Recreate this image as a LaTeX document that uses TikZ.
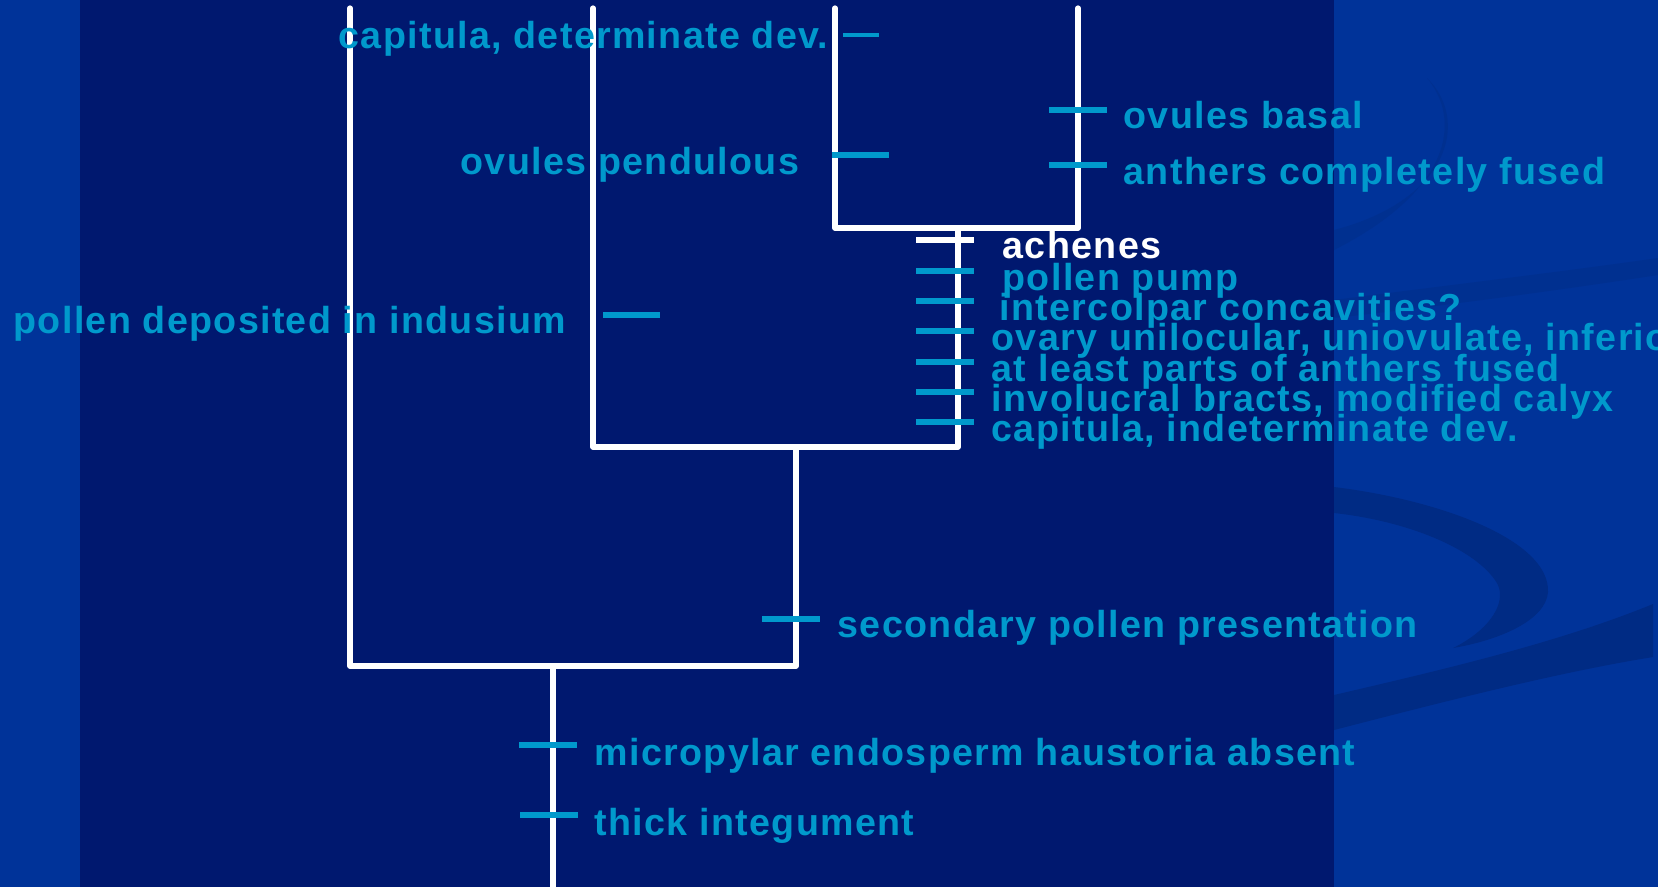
\documentclass[tikz,border=0pt]{standalone}
\usepackage{fontspec}
\newfontfamily\labfont{Liberation Sans}[LetterSpace=3.5]
\usepackage{xcolor}
\usetikzlibrary{calc}

\definecolor{panelblue}{HTML}{00186F}
\definecolor{sideblue}{HTML}{003399}
\definecolor{swooshblue}{HTML}{002B84}
\definecolor{faintblue}{HTML}{003090}
\definecolor{labelblue}{HTML}{0099CC}

\tikzset{
    branch/.style={draw=white, line width=1.5pt, line cap=round, line join=round},
    tick/.style={draw=labelblue, line width=1.7pt},
    trait/.style={anchor=base west, inner sep=0pt, text=labelblue,
        font=\labfont\bfseries\fontsize{10.7}{12}\selectfont}
}

\begin{document}
\begin{tikzpicture}[x=0.01cm, y=-0.01cm]

    \useasboundingbox (0,0) rectangle (1658,887);
    \clip (0,0) rectangle (1658,887);

    % background
    \fill[sideblue] (0,0) rectangle (1658,887);
    \fill[faintblue] (1334,230) .. controls (1450,200) and (1470,120) .. (1427,78)
      .. controls (1462,120) and (1452,190) .. (1334,250) -- cycle;
    \fill[faintblue] (1334,300) .. controls (1450,285) and (1560,272) .. (1658,258)
      -- (1658,275) .. controls (1560,290) and (1450,305) .. (1334,318) -- cycle;
    \fill[swooshblue] (1334,487) .. controls (1440,500) and (1550,540) .. (1548,592)
      .. controls (1546,620) and (1500,640) .. (1453,648)
      .. controls (1490,630) and (1510,600) .. (1495,580)
      .. controls (1470,545) and (1400,520) .. (1334,513) -- cycle;
    \fill[swooshblue] (1334,695) .. controls (1450,668) and (1560,642) .. (1653,604)
      -- (1653,657) .. controls (1560,672) and (1450,700) .. (1334,730) -- cycle;
    \fill[panelblue] (80,0) rectangle (1334,887);

    % tree
    \coordinate (t1) at (350,8);
    \coordinate (t2) at (593,8);
    \coordinate (t3) at (835,8);
    \coordinate (t4) at (1078,8);
    \coordinate (n34) at (958,228);
    \coordinate (n234) at (796,447);
    \coordinate (root) at (553,666);
    \coordinate (base) at (553,900);

    \draw[branch] (t3) |- (n34) -| (t4);
    \draw[branch] (t2) |- (n234) -| (n34);
    \draw[branch] (t1) |- (root) -| (n234);
    \draw[branch] (root) -- (base);

    % characters
    \draw[tick, line width=0.9pt] (843,35) -- (879,35);
    \node[trait] (capdet) at (338,48) {capitula, determinate dev.};

    \draw[tick] (832,155) -- (889,155);
    \node[trait] (pend) at (460,174) {ovules pendulous};

    \draw[tick] (1049,110) -- (1107,110);
    \node[trait] (basal) at (1123,128) {ovules basal};
    \draw[tick] (1049,165) -- (1107,165);
    \node[trait] (fused) at (1123,184) {anthers completely fused};

    \draw[tick] (603,315) -- (660,315);
    \node[trait] (indus) at (13,333) {pollen deposited in indusium};

    \draw[tick, draw=white] (916,240) -- (974,240);
    \node[trait, text=white] (ach) at (1002,258) {achenes};
    \foreach \y/\x/\txt [count=\i] in {
        271/1002/pollen pump,
        301/999/intercolpar concavities?,
        331/991/{ovary unilocular, uniovulate, inferior},
        362/991/at least parts of anthers fused,
        392/991/{involucral bracts, modified calyx},
        422/991/{capitula, indeterminate dev.}} {
      \draw[tick] (916,\y) -- (974,\y);
      \node[trait] (s\i) at (\x,\y+19) {\txt};
    }

    \draw[tick] (762,619) -- (820,619);
    \node[trait] (second) at (837,637) {secondary pollen presentation};

    \draw[tick] (519,745) -- (577,745);
    \node[trait] (micro) at (594,765) {micropylar endosperm haustoria absent};
    \draw[tick] (520,815) -- (578,815);
    \node[trait] (thick) at (594,835) {thick integument};

\end{tikzpicture}
\end{document}
